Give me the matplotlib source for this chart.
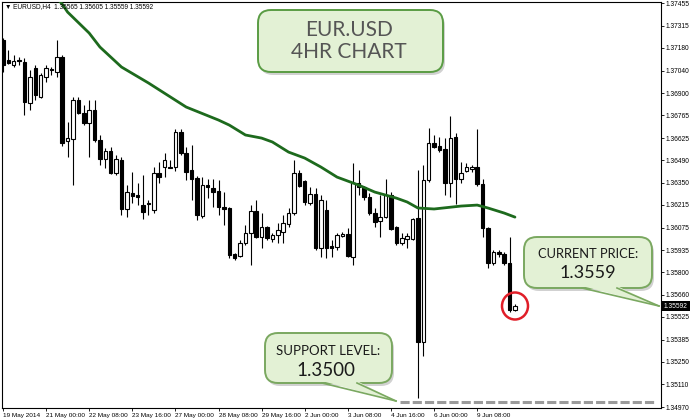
import numpy as np
import matplotlib.pyplot as plt
from matplotlib.patches import FancyBboxPatch, Polygon, Ellipse, Rectangle

# EURUSD H4 candles
opens = [1.37228, 1.37105, 1.37074, 1.37105, 1.37093, 1.36841, 1.37056, 1.36877, 1.37000, 1.37050,
         1.37031, 1.37123, 1.36607, 1.36619, 1.36859, 1.36779, 1.36718, 1.36798, 1.36613, 1.36496,
         1.36545, 1.36410, 1.36490, 1.36189, 1.36287, 1.36275, 1.36213, 1.36226, 1.36183, 1.36410,
         1.36447, 1.36447, 1.36447, 1.36662, 1.36533, 1.36429, 1.36379, 1.36146, 1.36336, 1.36318,
         1.36299, 1.36201, 1.36195, 1.35912, 1.35900, 1.35980, 1.36041, 1.36176, 1.36016, 1.36078,
         1.36004, 1.36029, 1.36047, 1.36096, 1.36164, 1.36410, 1.36361, 1.36226, 1.36281, 1.35949,
         1.36183, 1.35961, 1.35955, 1.36023, 1.36035, 1.35893, 1.36349, 1.36324, 1.36262, 1.36164,
         1.36115, 1.36139, 1.36275, 1.36078, 1.35980, 1.36004, 1.36004, 1.36133, 1.35371, 1.36367,
         1.36595, 1.36576, 1.36558, 1.36349, 1.36631, 1.36373, 1.36422, 1.36435, 1.36447, 1.36342,
         1.36072, 1.35857, 1.35924, 1.35912, 1.35857, 1.35565]
highs = [1.37240, 1.37167, 1.37136, 1.37123, 1.37117, 1.37044, 1.37074, 1.37025, 1.37074, 1.37062,
         1.37228, 1.37136, 1.36724, 1.36877, 1.36877, 1.36828, 1.36859, 1.36859, 1.36644, 1.36564,
         1.36570, 1.36521, 1.36508, 1.36336, 1.36416, 1.36349, 1.36398, 1.36244, 1.36447, 1.36478,
         1.36533, 1.36490, 1.36681, 1.36681, 1.36570, 1.36582, 1.36392, 1.36385, 1.36373, 1.36373,
         1.36367, 1.36293, 1.36201, 1.35918, 1.35998, 1.36090, 1.36213, 1.36244, 1.36164, 1.36084,
         1.36041, 1.36103, 1.36152, 1.36195, 1.36490, 1.36429, 1.36367, 1.36324, 1.36318, 1.36275,
         1.36244, 1.35998, 1.36041, 1.36047, 1.36072, 1.36472, 1.36429, 1.36330, 1.36287, 1.36195,
         1.36275, 1.36373, 1.36293, 1.36084, 1.36041, 1.36041, 1.36133, 1.36429, 1.36459, 1.36687,
         1.36644, 1.36631, 1.36625, 1.36761, 1.36656, 1.36478, 1.36472, 1.36459, 1.36681, 1.36373,
         1.36078, 1.35937, 1.35937, 1.35924, 1.36016, 1.35605]
lows = [1.37031, 1.37080, 1.37062, 1.37074, 1.36767, 1.36798, 1.36859, 1.36871, 1.36970, 1.37013,
        1.37000, 1.36576, 1.36508, 1.36336, 1.36773, 1.36705, 1.36508, 1.36601, 1.36459, 1.36441,
        1.36404, 1.36398, 1.36152, 1.36139, 1.36226, 1.36213, 1.36127, 1.36152, 1.36164, 1.36349,
        1.36385, 1.36441, 1.36422, 1.36521, 1.36367, 1.36244, 1.36121, 1.36133, 1.36256, 1.36201,
        1.36152, 1.36090, 1.35887, 1.35875, 1.35893, 1.35967, 1.35844, 1.36010, 1.35949, 1.35998,
        1.35986, 1.35980, 1.35980, 1.36078, 1.36152, 1.36324, 1.36213, 1.36213, 1.35937, 1.35893,
        1.35887, 1.35893, 1.35937, 1.36016, 1.35893, 1.35844, 1.36275, 1.36244, 1.36152, 1.36078,
        1.36016, 1.36133, 1.36060, 1.35967, 1.35967, 1.35949, 1.35998, 1.35026, 1.35285, 1.36355,
        1.36564, 1.36539, 1.36275, 1.36262, 1.36219, 1.36349, 1.36416, 1.36416, 1.36330, 1.36016,
        1.35826, 1.35844, 1.35893, 1.35844, 1.35555, 1.35559]
closes = [1.37074, 1.37087, 1.37099, 1.37099, 1.36847, 1.37000, 1.36890, 1.37013, 1.37056, 1.37044,
          1.37123, 1.36595, 1.36625, 1.36859, 1.36779, 1.36718, 1.36798, 1.36613, 1.36496, 1.36545,
          1.36410, 1.36496, 1.36189, 1.36293, 1.36269, 1.36262, 1.36170, 1.36219, 1.36410, 1.36385,
          1.36490, 1.36441, 1.36662, 1.36533, 1.36416, 1.36373, 1.36152, 1.36336, 1.36324, 1.36293,
          1.36201, 1.36189, 1.35906, 1.35887, 1.35980, 1.36041, 1.36176, 1.36016, 1.36078, 1.36010,
          1.36029, 1.36060, 1.36103, 1.36164, 1.36410, 1.36330, 1.36232, 1.36281, 1.35949, 1.36244,
          1.35949, 1.35949, 1.36029, 1.36035, 1.35900, 1.36349, 1.36324, 1.36262, 1.36164, 1.36109,
          1.36139, 1.36275, 1.36066, 1.35980, 1.36010, 1.36023, 1.36127, 1.35371, 1.36367, 1.36595,
          1.36570, 1.36552, 1.36349, 1.36625, 1.36373, 1.36410, 1.36447, 1.36447, 1.36342, 1.36072,
          1.35857, 1.35924, 1.35912, 1.35857, 1.35568, 1.35592]

# moving average (green line)
ma_bars = [10, 11, 12, 16, 18, 22, 27, 34, 40, 42, 45, 48, 50, 53, 56, 59, 62, 66, 69, 73,
           75, 77, 80, 85, 88, 90, 93, 95]
ma_vals = [1.37486, 1.37449, 1.37400, 1.37271, 1.37185, 1.37062, 1.36964, 1.36816, 1.36736, 1.36705,
           1.36644, 1.36625, 1.36601, 1.36539, 1.36502, 1.36447, 1.36385, 1.36336, 1.36293, 1.36256,
           1.36232, 1.36195, 1.36189, 1.36207, 1.36213, 1.36195, 1.36164, 1.36139]

y_ticks = [1.37455, 1.37315, 1.37180, 1.37040, 1.36900, 1.36765, 1.36625, 1.36490, 1.36350, 1.36215,
           1.36075, 1.35935, 1.35800, 1.35660, 1.35525, 1.35385, 1.35250, 1.35110, 1.34970]
x_tick_bars = [0, 8, 16, 24, 32, 40, 48, 56, 64, 72, 80, 88]
x_tick_labels = ['19 May 2014', '21 May 00:00', '22 May 08:00', '23 May 16:00', '27 May 00:00',
                 '28 May 08:00', '29 May 16:00', '2 Jun 00:00', '3 Jun 08:00', '4 Jun 16:00',
                 '6 Jun 00:00', '9 Jun 08:00']
support = 1.3500
last_price = 1.35592

small = ['Liberation Sans', 'DejaVu Sans']
hand = ['Lato', 'DejaVu Sans']

fig = plt.figure(figsize=(6.9, 4.2), dpi=100)
ax = fig.add_axes([2/690, 12/420, 659/690, 406/420])

for i in range(len(opens)):
    o, h, l, c = opens[i], highs[i], lows[i], closes[i]
    ax.vlines(i, l, h, color='black', lw=0.8, zorder=2)
    up = c >= o
    ax.bar(i, max(abs(c - o), 0.00002), bottom=min(o, c), width=0.65,
           color='white' if up else 'black', edgecolor='black', lw=0.8, zorder=3)

ax.plot(ma_bars, ma_vals, color='#1d6a1d', lw=2.0, zorder=4, solid_capstyle='round')
ax.hlines(support, 73.7, 121, colors='#9a9a9a', linestyles=(0, (3, 1)), lw=2.2, zorder=2)

ax.set_xlim(-0.17, 122.1)
ax.set_ylim(1.34965, 1.37462)
ax.yaxis.tick_right()
ax.set_yticks(y_ticks)
ax.set_yticklabels(['%.5f' % v for v in y_ticks], fontsize=4.8, family=small)
ax.set_xticks(x_tick_bars)
ax.set_xticklabels(x_tick_labels, fontsize=4.6, family=small, ha='left')
ax.tick_params(axis='both', length=2, width=0.6, pad=1.5, colors='black')
for s in ax.spines.values():
    s.set_linewidth(0.8)

# overlay in pixel units for the annotations
ov = fig.add_axes([0, 0, 1, 1], facecolor='none')
ov.set_xlim(0, 690)
ov.set_ylim(420, 0)
ov.axis('off')

ov.text(5, 7, '\u25bc EURUSD,H4  1.35565 1.35605 1.35559 1.35592', fontsize=4.7,
        family=small, va='center', ha='left')


def bubble(x0, y0, w, h, edge, tail=None):
    ov.add_patch(FancyBboxPatch((x0 + 2, y0 + 3), w, h, boxstyle='round,pad=0,rounding_size=13',
                                fc='#9a9a9a', ec='none', alpha=0.45, zorder=1))
    ov.add_patch(FancyBboxPatch((x0, y0), w, h, boxstyle='round,pad=0,rounding_size=13',
                                fc='#e3f1d5', ec=edge, lw=1.4, zorder=2))
    if tail:
        bx1, bx2, tip = tail
        by = y0 + h
        ov.add_patch(Polygon([(bx1, by - 2), (bx2, by - 2), tip], closed=True,
                             fc='#e3f1d5', ec='none', zorder=3))
        ov.plot([bx1, tip[0]], [by, tip[1]], color=edge, lw=1.2, zorder=4)
        ov.plot([bx2, tip[0]], [by, tip[1]], color=edge, lw=1.2, zorder=4)


bubble(258, 10, 185, 62, '#5a9c44')
ov.text(349, 30, 'EUR.USD', fontsize=15, family=hand, color='#555555', ha='center', va='center', zorder=5)
ov.text(349, 52, '4HR CHART', fontsize=15, family=hand, color='#555555', ha='center', va='center', zorder=5)

bubble(524, 237, 128, 51, '#7aa860', tail=(582, 617, (659, 306)))
ov.text(588, 254, 'CURRENT PRICE:', fontsize=9.3, family=hand, color='#1a1a1a', ha='center', va='center', zorder=5)
ov.text(588, 273, '1.3559', fontsize=13, family=hand, color='#1a1a1a', ha='center', va='center', zorder=5)

bubble(265, 333, 127, 50, '#7aa860', tail=(322, 357, (396, 401)))
ov.text(328, 351, 'SUPPORT LEVEL:', fontsize=9.5, family=hand, color='#1a1a1a', ha='center', va='center', zorder=5)
ov.text(326, 370, '1.3500', fontsize=13.5, family=hand, color='#1a1a1a', ha='center', va='center', zorder=5)

ov.add_patch(Ellipse((515, 306), 26, 27, fc='none', ec='#e01e28', lw=1.8, zorder=5))

ov.add_patch(Rectangle((662, 301), 28, 10, fc='black', ec='none', zorder=5))
ov.text(664, 306.5, '%.5f' % last_price, fontsize=4.8, family=small, color='white',
        ha='left', va='center', zorder=6)

fig.savefig('out.png', dpi=100)
